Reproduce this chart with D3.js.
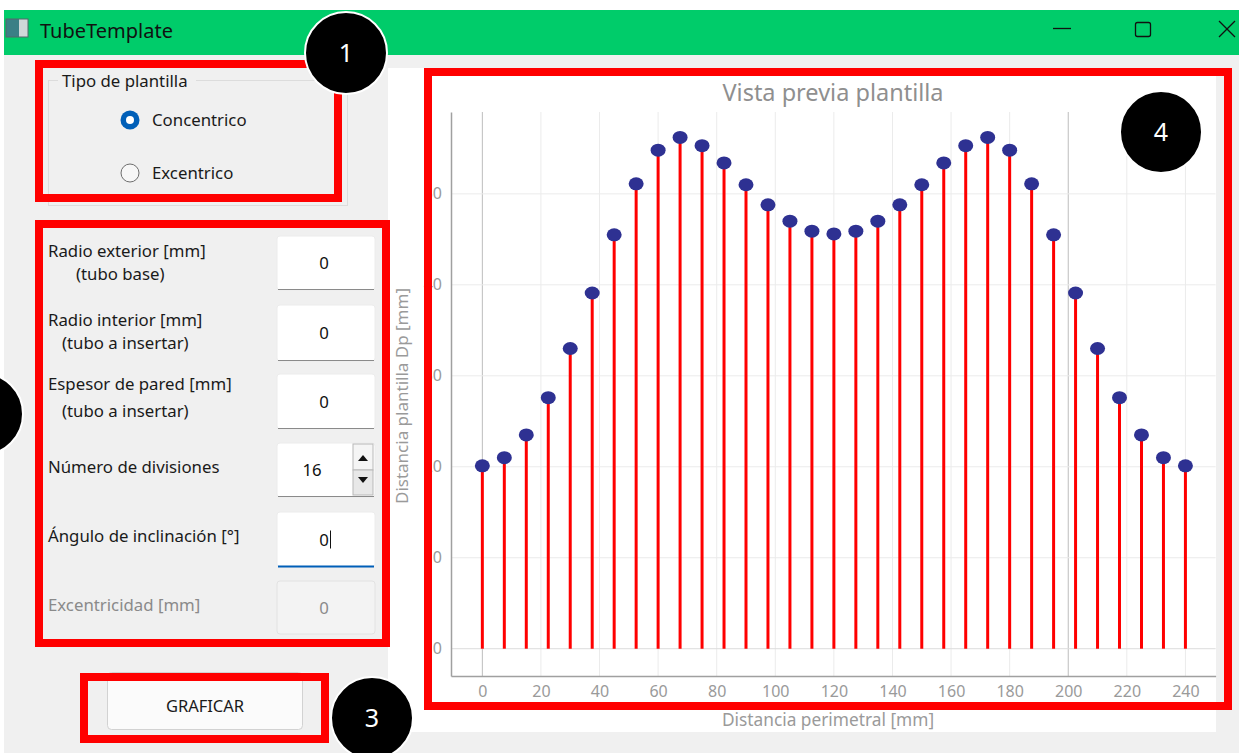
<!DOCTYPE html>
<html><head><meta charset="utf-8">
<script src="https://cdn.jsdelivr.net/npm/d3@7"></script>
<style>body{margin:0;background:#fff;overflow:hidden;} svg{display:block;font-family:"Noto Sans","Open Sans",sans-serif;}</style>
</head><body><svg id="c" width="1239" height="753"></svg>
<script>
// ---- chart data ----
const xValues = [0,7.5,15,22.5,30,37.5,45,52.5,60,67.5,75,82.5,90,97.5,105,112.5,120,127.5,135,142.5,150,157.5,165,172.5,180,187.5,195,202.5,210,217.5,225,232.5,240];
const dpValues = [20.1,21.0,23.5,27.6,33.0,39.1,45.5,51.1,54.8,56.2,55.3,53.4,51.0,48.8,47.0,45.9,45.6,45.9,47.0,48.8,51.0,53.4,55.3,56.2,54.8,51.1,45.5,39.1,33.0,27.6,23.5,21.0,20.1];
const xTicks = [0,20,40,60,80,100,120,140,160,180,200,220,240];
const yTicks = [0,10,20,30,40,50];
const chartTitle = "Vista previa plantilla";
const xTitle = "Distancia perimetral [mm]";
const yTitle = "Distancia plantilla Dp [mm]";

// ---- form texts ----
const formLabels = [
  {t:"Radio exterior [mm]", x:48, y:251},
  {t:"(tubo base)", x:76, y:274},
  {t:"Radio interior [mm]", x:48, y:320},
  {t:"(tubo a insertar)", x:62, y:343},
  {t:"Espesor de pared [mm]", x:48, y:384},
  {t:"(tubo a insertar)", x:62, y:411},
  {t:"Número de divisiones", x:48, y:467},
  {t:"Ángulo de inclinación [°]", x:48, y:536},
  {t:"Excentricidad [mm]", x:48, y:605, disabled:true}
];
const inputs = [
  {v:"0", y0:236, y1:290},
  {v:"0", y0:305, y1:361},
  {v:"0", y0:374, y1:429},
  {v:"16", y0:443, y1:497, spin:true},
  {v:"0", y0:512, y1:567, focus:true},
  {v:"0", y0:581, y1:634, disabled:true}
];
const badges = [
  {n:"1", cx:346, cy:53},
  {n:"", cx:-18, cy:414},
  {n:"3", cx:372, cy:718},
  {n:"4", cx:1161, cy:132}
];

const svg = d3.select("#c");
const W = 1239, H = 753;
const FS = 16.8;

// window background
svg.append("rect").attr("width",W).attr("height",H).attr("fill","#f0f0f0");
svg.append("rect").attr("width",W).attr("height",10).attr("fill","#ffffff");
svg.append("rect").attr("y",0).attr("width",4).attr("height",H).attr("fill","#ffffff");
// title bar
svg.append("rect").attr("x",4).attr("y",10).attr("width",W-4).attr("height",45).attr("fill","#00cc6a");
svg.append("rect").attr("x",6).attr("y",19).attr("width",22).attr("height",18).attr("fill","#3b7f86");
svg.append("rect").attr("x",19).attr("y",19).attr("width",9).attr("height",18).attr("fill","#cfd8d8");
svg.append("rect").attr("x",6).attr("y",19).attr("width",22).attr("height",18).attr("fill","none").attr("stroke","#55666a").attr("stroke-width",1);
svg.append("text").attr("x",40).attr("y",38).attr("font-size",20).attr("fill","#111").text("TubeTemplate");
// window controls
svg.append("line").attr("x1",1053).attr("x2",1071).attr("y1",28.5).attr("y2",28.5).attr("stroke","#111").attr("stroke-width",1.3);
svg.append("rect").attr("x",1135.5).attr("y",22.5).attr("width",15).attr("height",14).attr("rx",2).attr("fill","none").attr("stroke","#111").attr("stroke-width",1.3);
svg.append("line").attr("x1",1219).attr("y1",21).attr("x2",1235).attr("y2",37).attr("stroke","#111").attr("stroke-width",1.3);
svg.append("line").attr("x1",1235).attr("y1",21).attr("x2",1219).attr("y2",37).attr("stroke","#111").attr("stroke-width",1.3);

// group box
svg.append("rect").attr("x",48.5).attr("y",80.5).attr("width",299).attr("height",125).attr("fill","none").attr("stroke","#dcdcdc");
svg.append("rect").attr("x",58).attr("y",72).attr("width",138).attr("height",16).attr("fill","#f0f0f0");
svg.append("text").attr("x",62).attr("y",87).attr("font-size",FS).attr("fill","#1a1a1a").text("Tipo de plantilla");
// radios
svg.append("circle").attr("cx",130).attr("cy",120).attr("r",9.5).attr("fill","#005fb8");
svg.append("circle").attr("cx",130).attr("cy",120).attr("r",4).attr("fill","#ffffff");
svg.append("text").attr("x",152).attr("y",126).attr("font-size",FS).attr("fill","#1a1a1a").text("Concentrico");
svg.append("circle").attr("cx",130).attr("cy",173).attr("r",9).attr("fill","#f7f7f7").attr("stroke","#6e6e6e").attr("stroke-width",1);
svg.append("text").attr("x",152).attr("y",179).attr("font-size",FS).attr("fill","#1a1a1a").text("Excentrico");

// form labels
svg.selectAll("text.fl").data(formLabels).enter().append("text").attr("class","fl")
  .attr("x",d=>d.x).attr("y",d=>d.y+6).attr("font-size",FS)
  .attr("fill",d=>d.disabled?"#8a8a8a":"#1a1a1a").text(d=>d.t);

// inputs
inputs.forEach(d=>{
  const g = svg.append("g");
  g.append("rect").attr("x",277).attr("y",d.y0).attr("width",98).attr("height",d.y1-d.y0)
    .attr("rx",3).attr("fill",d.disabled?"#f3f3f3":"#ffffff").attr("stroke",d.disabled?"#e2e2e2":"#ececec");
  if(!d.disabled){
    g.append("line").attr("x1",278).attr("x2",374).attr("y1",d.y1-0.5).attr("y2",d.y1-0.5)
      .attr("stroke",d.focus?"#005fb8":"#8a8a8a").attr("stroke-width",d.focus?2:1);
  }
  const tx = d.spin ? 312 : 324;
  g.append("text").attr("x",tx).attr("y",(d.y0+d.y1)/2+6).attr("text-anchor","middle")
    .attr("font-size",FS).attr("fill",d.disabled?"#8a8a8a":"#111").text(d.v);
  if(d.focus){
    g.append("line").attr("x1",330.5).attr("x2",330.5).attr("y1",(d.y0+d.y1)/2-9).attr("y2",(d.y0+d.y1)/2+9).attr("stroke","#111").attr("stroke-width",1);
  }
  if(d.spin){
    const mid=(d.y0+d.y1)/2;
    g.append("rect").attr("x",353).attr("y",d.y0+1).attr("width",20).attr("height",mid-d.y0-1).attr("fill","#f5f5f5").attr("stroke","#b8b8b8");
    g.append("rect").attr("x",353).attr("y",mid).attr("width",20).attr("height",d.y1-mid-2).attr("fill","#e8e8e8").attr("stroke","#b8b8b8");
    g.append("path").attr("d",`M358,${mid-9}L368,${mid-9}L363,${mid-15}Z`).attr("fill","#111");
    g.append("path").attr("d",`M358,${mid+7}L368,${mid+7}L363,${mid+13}Z`).attr("fill","#111");
  }
});

// button
svg.append("rect").attr("x",107.5).attr("y",672.5).attr("width",195).attr("height",57).attr("rx",4).attr("fill","#fbfbfb").attr("stroke","#d2d2d2");
svg.append("text").attr("x",205).attr("y",712).attr("text-anchor","middle").attr("font-size",16.5).attr("fill","#1a1a1a").text("GRAFICAR");

// ---- chart panel ----
svg.append("rect").attr("x",388).attr("y",68).attr("width",828).attr("height",664).attr("fill","#ffffff");

const x = d3.scaleLinear().domain([-10.7,250.3]).range([451,1215.6]);
const y = d3.scaleLinear().domain([-3,59]).range([676,112]);

const plot = svg.append("g");
// grid
plot.selectAll("line.vg").data(xTicks).enter().append("line")
  .attr("x1",d=>x(d)).attr("x2",d=>x(d)).attr("y1",y.range()[1]).attr("y2",y.range()[0])
  .attr("stroke",d=>(d===0||d===200)?"#bdbdbd":"#ebebeb").attr("stroke-width",1);
plot.selectAll("line.hg").data(yTicks).enter().append("line")
  .attr("x1",x.range()[0]).attr("x2",x.range()[1]).attr("y1",d=>y(d)).attr("y2",d=>y(d))
  .attr("stroke",d=>d===0?"#dcdcdc":"#ebebeb").attr("stroke-width",1);

// axes
const xAxis = d3.axisBottom(x).tickValues(xTicks).tickSize(0).tickPadding(10);
const gx = svg.append("g").attr("transform",`translate(0,${y.range()[0]})`).call(xAxis);
gx.select(".domain").attr("stroke","#a0a0a0").attr("stroke-width",1.5);
gx.selectAll("text").attr("font-size",16).attr("fill","#9a9a9a").attr("font-family","Noto Sans, sans-serif");
const yAxis = d3.axisLeft(y).tickValues(yTicks).tickSize(0).tickPadding(9);
const gy = svg.append("g").attr("transform",`translate(${x.range()[0]},0)`).call(yAxis);
gy.select(".domain").attr("stroke","#a0a0a0").attr("stroke-width",1.5);
gy.selectAll("text").attr("font-size",16).attr("fill","#9a9a9a").attr("font-family","Noto Sans, sans-serif");

// stems
const pts = xValues.map((v,i)=>({x:v, y:dpValues[i]}));
plot.selectAll("line.stem").data(pts).enter().append("line")
  .attr("x1",d=>x(d.x)).attr("x2",d=>x(d.x)).attr("y1",y(0)).attr("y2",d=>y(d.y))
  .attr("stroke","#ff0000").attr("stroke-width",3);
plot.selectAll("ellipse.pt").data(pts).enter().append("ellipse")
  .attr("cx",d=>x(d.x)).attr("cy",d=>y(d.y)).attr("rx",7.5).attr("ry",6.5).attr("fill","#2e3192");

// titles
svg.append("text").attr("x",833).attr("y",101).attr("text-anchor","middle").attr("font-size",23.5).attr("fill","#8f8f8f").text(chartTitle);
svg.append("text").attr("x",828).attr("y",726).attr("text-anchor","middle").attr("font-size",17.3).attr("fill","#9a9a9a").text(xTitle);
svg.append("text").attr("transform","translate(408,396) rotate(-90)").attr("text-anchor","middle").attr("font-size",17).attr("fill","#9a9a9a").text(yTitle);

// ---- annotation boxes ----
const boxes = [
  {x:39,y:64,w:299,h:134},
  {x:39,y:224,w:347,h:419},
  {x:84,y:677,w:241,h:62},
  {x:428,y:72,w:800,h:634}
];
svg.selectAll("rect.box").data(boxes).enter().append("rect")
  .attr("x",d=>d.x).attr("y",d=>d.y).attr("width",d=>d.w).attr("height",d=>d.h)
  .attr("fill","none").attr("stroke","#ff0000").attr("stroke-width",8);

const bg = svg.selectAll("g.badge").data(badges).enter().append("g");
bg.append("circle").attr("cx",d=>d.cx).attr("cy",d=>d.cy).attr("r",41).attr("fill","#000").attr("stroke","#fff").attr("stroke-width",2);
bg.filter(d=>d.n!=="").append("text").attr("x",d=>d.cx).attr("y",d=>d.cy+9).attr("text-anchor","middle").attr("font-size",25).attr("fill","#fff").text(d=>d.n);
</script></body></html>
